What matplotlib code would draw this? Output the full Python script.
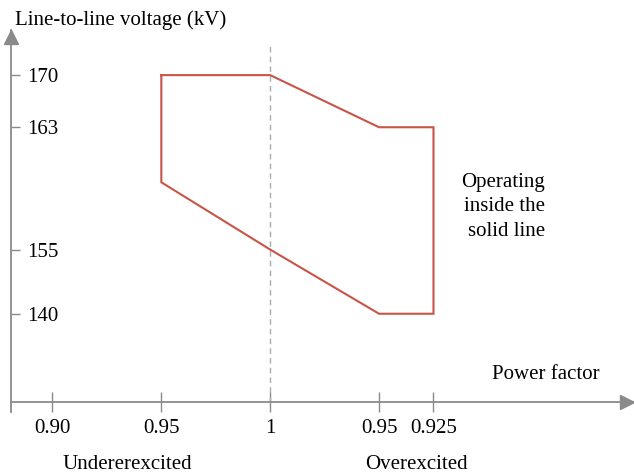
import matplotlib
matplotlib.use('Agg')
import matplotlib.pyplot as plt
import numpy as np

plt.rcParams['font.family'] = ['Liberation Serif', 'DejaVu Serif']

# power factor tick labels along the x axis (position = order on the chart)
pf_pos = [-2, -1, 0, 1, 1.5]
pf_labels = ['0.90', '0.95', '1', '0.95', '0.925']

# voltage ticks (kV) and where the chart puts them (non-linear axis)
volt_ticks = [140, 155, 163, 170]
volt_marks = [0, 64, 186, 238]

# operating region outline (power factor position, voltage kV)
region_x = [-1, 0, 1, 1.5, 1.5, 1, 0, -1, -1]
region_v = [170, 170, 163, 163, 140, 140, 155, 159.4, 170]

GRAY = '#8a8a8a'
RED = '#c85448'
FS = 15


def _anchors():
    # extend the piecewise mapping past the end ticks
    lo_slope = (volt_marks[1] - volt_marks[0]) / (volt_ticks[1] - volt_ticks[0])
    hi_slope = (volt_marks[-1] - volt_marks[-2]) / (volt_ticks[-1] - volt_ticks[-2])
    v = [volt_ticks[0] - 60] + volt_ticks + [volt_ticks[-1] + 60]
    p = [volt_marks[0] - 60 * lo_slope] + volt_marks + [volt_marks[-1] + 60 * hi_slope]
    return np.array(v, float), np.array(p, float)


V_A, P_A = _anchors()


def fwd(v):
    return np.interp(v, V_A, P_A)


def inv(p):
    return np.interp(p, P_A, V_A)


fig = plt.figure(figsize=(6.34, 4.75), dpi=100)
W, H = 634, 475
ax = fig.add_axes([11 / W, (H - 412) / H, 623 / W, 382 / H])
ax.set_yscale('function', functions=(fwd, inv))

ax.set_xlim(-2.381, 3.342)
ax.set_ylim(inv(-98), inv(283))

ax.spines['top'].set_visible(False)
ax.spines['right'].set_visible(False)
for s in ('left', 'bottom'):
    ax.spines[s].set_color(GRAY)
    ax.spines[s].set_linewidth(1.3)
ax.spines['bottom'].set_position(('axes', 10 / 382))

ax.set_xticks(pf_pos)
ax.set_xticklabels(pf_labels, fontsize=FS)
ax.set_yticks(volt_ticks)
ax.set_yticklabels([str(v) for v in volt_ticks], fontsize=FS)
ax.yaxis.set_minor_locator(matplotlib.ticker.NullLocator())
ax.xaxis.set_minor_locator(matplotlib.ticker.NullLocator())
ax.tick_params(axis='x', direction='inout', length=14, width=1, color=GRAY, pad=5)
ax.tick_params(axis='y', direction='in', length=6.5, width=1, color=GRAY, pad=-11.5)
for lab in ax.get_yticklabels():
    lab.set_horizontalalignment('left')

# arrow heads on the axes
ax.plot([0], [1 - 7 / 382], marker='^', markersize=10, color=GRAY,
        transform=ax.transAxes, clip_on=False)
ax.plot([1 - 7 / 623], [10 / 382], marker='>', markersize=10, color=GRAY,
        transform=ax.transAxes, clip_on=False)

# unity power factor divider
ax.plot([0, 0], [inv(-88), inv(270)], color='#aaaaaa', lw=1, ls=(0, (4, 3)))

ax.plot(region_x, region_v, color=RED, lw=1.5, solid_joinstyle='miter')

fig.text(15 / W, 1 - 25 / H, 'Line-to-line voltage (kV)', fontsize=FS, va='baseline')
fig.text(546 / W, 1 - 379 / H, 'Power factor', fontsize=FS, ha='center', va='baseline')
fig.text(127 / W, 1 - 469 / H, 'Undererexcited', fontsize=FS, ha='center', va='baseline')
fig.text(416 / W, 1 - 469 / H, 'Overexcited', fontsize=FS, ha='center', va='baseline')
fig.text(545 / W, 1 - 236 / H, 'Operating\ninside the\nsolid line', fontsize=FS,
         ha='right', va='baseline', multialignment='right', linespacing=1.4)

fig.savefig('out.png', dpi=100)
